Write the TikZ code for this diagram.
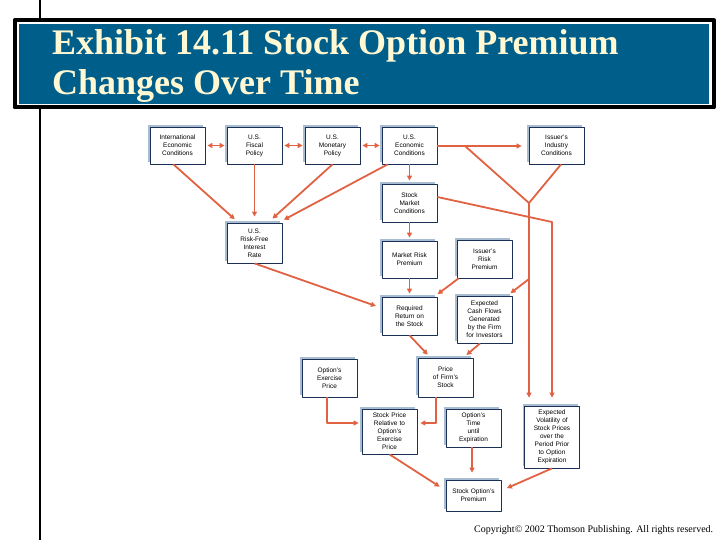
\documentclass[tikz,border=0pt]{standalone}
\usepackage{fontspec}
\setmainfont{Liberation Serif}
\setsansfont{Liberation Sans}
\usepackage{tikz}
\usetikzlibrary{calc,arrows.meta,shadows}
\definecolor{titleblue}{RGB}{0,94,138}
\definecolor{titlecream}{RGB}{255,248,210}
\definecolor{flowred}{RGB}{224,98,66}
\definecolor{boxnavy}{RGB}{28,48,86}
\definecolor{shadowblue}{RGB}{168,188,210}

\begin{document}
\begin{tikzpicture}[x=1pt,y=-1pt,line join=round]
    \tikzstyle{factor}=[draw=boxnavy,line width=0.8pt,fill=white,text width=53pt,inner sep=1pt,align=center,font=\sffamily\fontsize{6.5}{8}\selectfont,drop shadow={shadow xshift=-2pt,shadow yshift=2pt,fill=shadowblue,opacity=1}]
    \tikzstyle{flow}=[draw=flowred,line width=1.8pt,-{Triangle[length=5pt,width=5pt]}]
    \tikzstyle{both flow}=[flow,{Triangle[length=5pt,width=5pt]}-{Triangle[length=5pt,width=5pt]},shorten <=2pt,shorten >=2pt]
    \tikzstyle{title line}=[anchor=base west,inner sep=0,text=titlecream,font=\bfseries\fontsize{36}{40}\selectfont]

    \useasboundingbox (0,0) rectangle (720,540);
    \draw[line width=2pt] (40,0) -- (40,540);

    % title
    \draw[line width=4pt,fill=white] (14.5,20.5) rectangle (714,107.5);
    \fill[titleblue] (18.5,24) rectangle (708.5,104.5);
    \node[title line] (title1) at (52,55) {Exhibit 14.11 Stock Option Premium};
    \node[title line] (title2) at (52,95) {Changes Over Time};

    \node[factor,minimum height=37pt] (1) at (177.5,145.5) {International\\Economic\\Conditions};
    \node[factor,minimum height=37pt] (2) at (254.5,145.5) {U.S.\\Fiscal\\Policy};
    \node[factor,minimum height=37pt] (3) at (332.5,145.5) {U.S.\\Monetary\\Policy};
    \node[factor,minimum height=37pt] (4) at (409.5,145.5) {U.S.\\Economic\\Conditions};
    \node[factor,minimum height=37pt] (5) at (556.5,145.5) {Issuer's\\Industry\\Conditions};
    \node[factor,minimum height=38pt] (6) at (409.5,203) {Stock\\Market\\Conditions};
    \node[factor,minimum height=40pt] (7) at (254.5,243) {U.S.\\Risk-Free\\Interest\\Rate};
    \node[factor,minimum height=37pt] (8) at (409.5,259.5) {Market Risk\\Premium};
    \node[factor,minimum height=38pt] (9) at (484.5,259) {Issuer's\\Risk\\Premium};
    \node[factor,minimum height=38pt] (10) at (409.5,316) {Required\\Return on\\the Stock};
    \node[factor,minimum height=47pt] (11) at (484.5,319.5) {Expected\\Cash Flows\\Generated\\by the Firm\\for Investors};
    \node[factor,minimum height=38pt] (12) at (329.5,378) {Option's\\Exercise\\Price};
    \node[factor,minimum height=39pt] (13) at (445.5,377.5) {Price\\of Firm's\\Stock};
    \node[factor,minimum height=45pt] (14) at (389.5,431.5) {Stock Price\\Relative to\\Option's\\Exercise\\Price};
    \node[factor,minimum height=38pt] (15) at (473.5,428) {Option's\\Time\\until\\Expiration};
    \node[factor,minimum height=62pt] (16) at (552,437) {Expected\\Volatility of\\Stock Prices\\over the\\Period Prior\\to Option\\Expiration};
    \node[factor,minimum height=31pt] (17) at (473.5,495.5) {Stock Option's\\Premium};

    % top row
    \draw[both flow] (1) -- (2);
    \draw[both flow] (2) -- (3);
    \draw[both flow] (3) -- (4);
    \draw[flow,shorten >=7pt] ([yshift=-0.5pt]4.east) -- ([yshift=-0.5pt]5.west);

    % industry fork
    \coordinate (split) at (465,146);
    \coordinate (fork) at (529,203);
    \coordinate (tap) at ($(fork)+(0,76)$);
    \coordinate (bend) at (552,222);
    \draw[flowred,line width=1.8pt] (split) -- (fork) -- ([xshift=4.5pt]5.south);
    \draw[flow,shorten >=8pt] (fork) -- (fork |- 16.north);
    \draw[flow,shorten >=4pt] (tap) -- ([xshift=-5pt]11.north east);
    \draw[flow,shorten >=8pt] ([yshift=6pt]6.east) -- (bend) -- (16.north);

    % risk-free rate
    \draw[flow,shorten >=5pt] ([xshift=-4pt]1.south) -- ([xshift=-16pt]7.north);
    \draw[flow,shorten >=6pt] (2) -- (7);
    \draw[flow,shorten >=6pt] (3.south) -- ([xshift=13.5pt]7.north);
    \draw[flow,shorten >=6pt] ([xshift=6pt]4.south west) -- ([xshift=24pt]7.north);

    % required return
    \draw[flow,shorten >=3pt] (4) -- (6);
    \draw[flow,shorten >=3pt] (6) -- (8);
    \draw[flow,shorten >=3pt] (8) -- (10);
    \draw[flow,shorten >=4pt] ([xshift=-26pt]9.south) -- ([xshift=-3pt]10.north east);
    \draw[flow,shorten >=6pt] (7.south) -- ([yshift=8pt]10.west);

    % price
    \draw[flow,shorten >=4pt] (10.south) -- ([xshift=-15pt]13.north);
    \draw[flow,shorten >=4pt] ([xshift=-4.5pt]11.south) -- ([xshift=-10pt]13.north east);
    \draw[flow,shorten >=3pt] ([xshift=-2.5pt]12.south) |- ([yshift=8.5pt]14.west);
    \draw[flow,shorten >=3pt] ([xshift=-9.5pt]13.south) |- ([yshift=8.5pt]14.east);

    % premium
    \draw[flow,shorten >=7pt] (14.south) -- ([yshift=5pt]17.west);
    \draw[flow,shorten >=7pt] ([xshift=-1.5pt]15.south) -- ([xshift=-1.5pt]17.north);
    \draw[flow,shorten >=6pt] (16.south) -- ([yshift=5pt]17.east);

    \node[anchor=base west,inner sep=0,font=\fontsize{10}{12}\selectfont] (copy) at (474,532) {Copyright© 2002 Thomson Publishing. All rights reserved.};
\end{tikzpicture}
\end{document}
